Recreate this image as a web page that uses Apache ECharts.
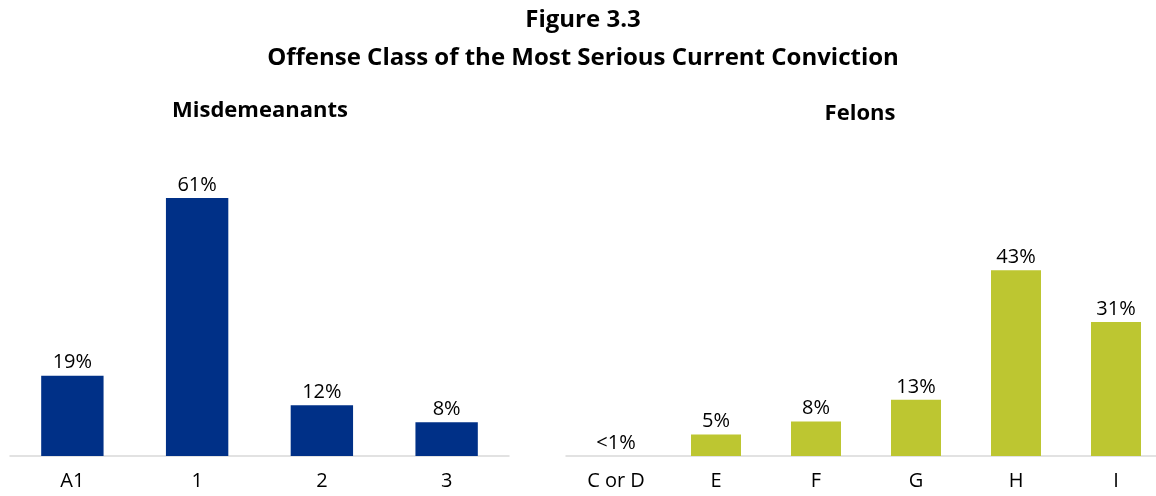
<!DOCTYPE html>
<html><head><meta charset="utf-8">
<script src="https://cdn.jsdelivr.net/npm/echarts@6/dist/echarts.min.js"></script>
<style>html,body{margin:0;padding:0;background:#fff;overflow:hidden;width:1156px;height:496px}#c{width:1170px;height:496px}</style>
</head><body><div id="c"></div>
<script>
const titleMain = 'Figure 3.3';
const titleSub = 'Offense Class of the Most Serious Current Conviction';
const misdTitle = 'Misdemeanants';
const felTitle = 'Felons';
const misdCategories = ['A1', '1', '2', '3'];
const misdValues = [19, 61, 12, 8];
const misdLabels = ['19%', '61%', '12%', '8%'];
const felCategories = ['C or D', 'E', 'F', 'G', 'H', 'I'];
const felValues = [0, 5, 8, 13, 43, 31];
const felLabels = ['<1%', '5%', '8%', '13%', '43%', '31%'];

const FONT = '"Open Sans", sans-serif';
const chart = echarts.init(document.getElementById('c'), null, {renderer: 'canvas'});
function xAx(idx, cats) {
  return {type: 'category', gridIndex: idx, data: cats,
    axisLine: {lineStyle: {color: '#d9d9d9', width: 1.5}}, axisTick: {show: false},
    axisLabel: {color: '#000', fontSize: 20, fontFamily: FONT, margin: 15}};
}
function yAx(idx) {
  return {type: 'value', gridIndex: idx, min: 0, max: 100, show: false, splitLine: {show: false}};
}
function ser(idx, vals, labels, color) {
  return {type: 'bar', xAxisIndex: idx, yAxisIndex: idx, data: vals, barWidth: '50%',
    itemStyle: {color: color}, silent: true,
    label: {show: true, position: 'top', distance: 3, color: '#000', fontSize: 20, fontFamily: FONT,
      formatter: p => labels[p.dataIndex]}};
}
chart.setOption({
  animation: false,
  title: [
    {text: titleMain, left: 578, top: 3, textAlign: 'center', textStyle: {fontSize: 24, fontWeight: 'bold', fontFamily: FONT, color: '#000'}},
    {text: titleSub, left: 578, top: 41, textAlign: 'center', textStyle: {fontSize: 24, fontWeight: 'bold', fontFamily: FONT, color: '#000'}},
    {text: misdTitle, left: 255, top: 95, textAlign: 'center', textStyle: {fontSize: 22, fontWeight: 'bold', fontFamily: FONT, color: '#000'}},
    {text: felTitle, left: 855, top: 98, textAlign: 'center', textStyle: {fontSize: 22, fontWeight: 'bold', fontFamily: FONT, color: '#000'}}
  ],
  grid: [
    {left: 10, width: 499, top: 33, height: 423},
    {left: 566, width: 600, top: 24, height: 432}
  ],
  xAxis: [xAx(0, misdCategories), xAx(1, felCategories)],
  yAxis: [yAx(0), yAx(1)],
  series: [ser(0, misdValues, misdLabels, '#003087'), ser(1, felValues, felLabels, '#bdc631')]
});
</script></body></html>
